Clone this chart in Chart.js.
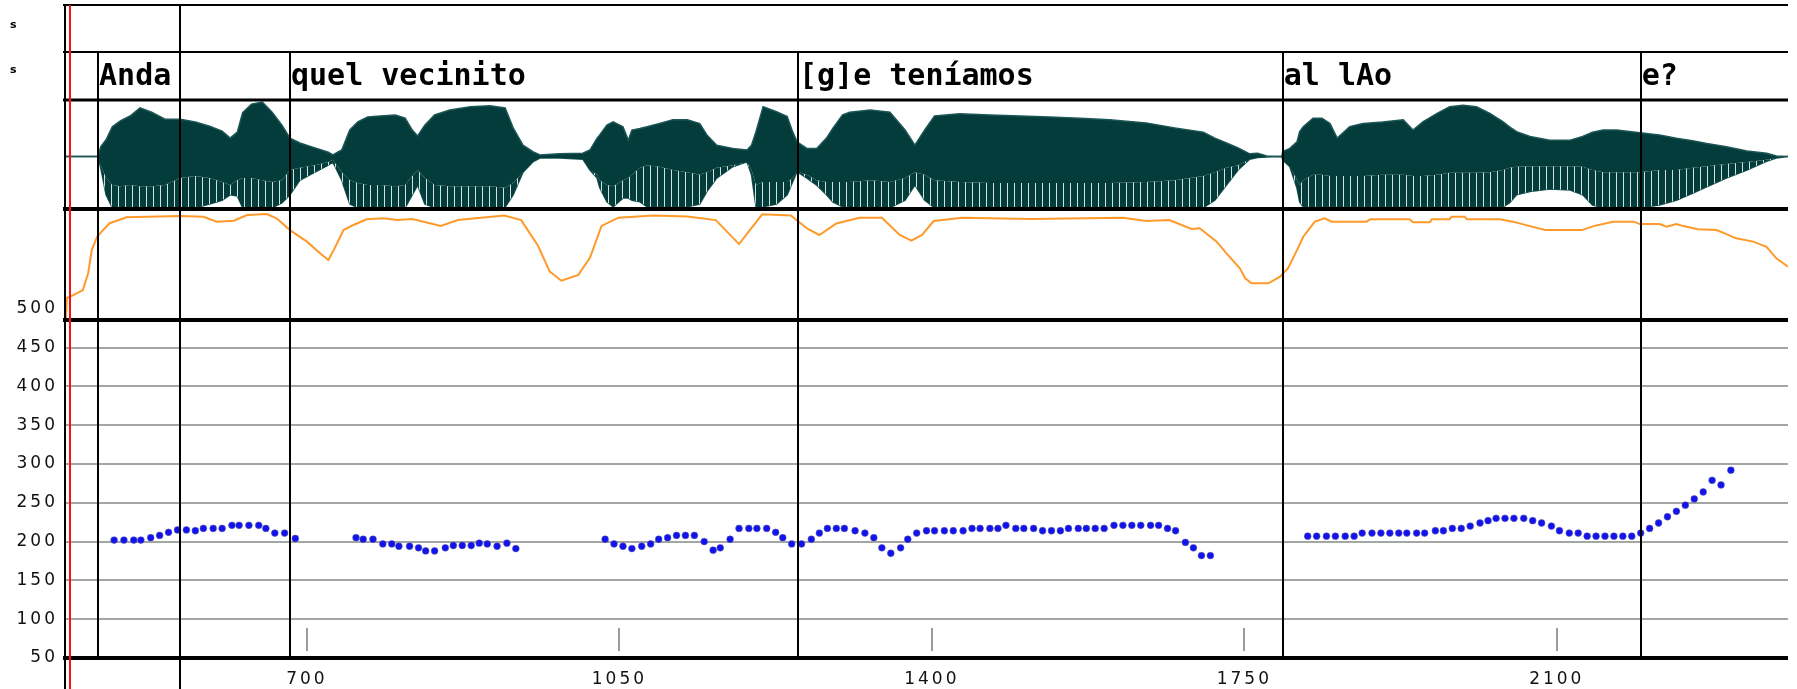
<!DOCTYPE html>
<html>
<head>
<meta charset="utf-8">
<script src="https://cdn.jsdelivr.net/npm/chart.js@4.4.1/dist/chart.umd.min.js"></script>
<style>
  html, body { margin: 0; padding: 0; background: #fff; }
  canvas { display: block; }
</style>
</head>
<body>
<canvas id="c" width="1797" height="689"></canvas>
<script>
// ---- time axis (ms) ----
const timeRange = [429, 2359];
const timeTicks = [700, 1050, 1400, 1750, 2100];
const pitchTicks = [50, 100, 150, 200, 250, 300, 350, 400, 450, 500];
const cursorTime = 434.6;

// ---- text grid ----
const topTierBounds = [558];
const wordBounds = [466, 558, 681, 1250, 1793, 2194];
const wordLabels = ['Anda', '', 'quel vecinito', '[g]e teníamos', 'al lAo', 'e?'];

// ---- waveform envelope: [time, upper peak, lower edge of dense part, lower peak] ----
const wave = [
  [429,0,0,0],[466,0,0,0],[469,.18,-.16,-.21],[475,.31,-.40,-.71],[482,.55,-.53,-.95],[491,.66,-.55,-.95],
  [502,.75,-.53,-.95],[513,.90,-.55,-.95],[526,.82,-.55,-.95],[541,.69,-.53,-.95],[558,.69,-.40,-.95],
  [575,.64,-.36,-.95],[591,.56,-.40,-.88],[605,.47,-.47,-.81],[614,.34,-.53,-.71],[622,.45,-.44,-.73],
  [628,.81,-.40,-.95],[638,.97,-.40,-.95],[650,1.01,-.44,-.95],[661,.82,-.47,-.95],[672,.58,-.44,-.86],
  [681,.34,-.25,-.71],[692,.25,-.21,-.44],[709,.16,-.16,-.29],[724,.08,-.10,-.16],[729,.03,-.06,-.10],
  [739,.12,-.29,-.44],[748,.49,-.44,-.88],[757,.64,-.49,-.95],[768,.73,-.53,-.95],[782,.75,-.53,-.95],
  [799,.77,-.55,-.95],[810,.71,-.53,-.95],[818,.49,-.36,-.71],[824,.38,-.25,-.53],[832,.58,-.40,-.88],
  [843,.77,-.53,-.95],[860,.86,-.55,-.95],[883,.92,-.55,-.95],[905,.94,-.55,-.95],[922,.90,-.58,-.94],
  [931,.53,-.49,-.71],[942,.21,-.29,-.29],[953,.09,-.10,-.10],[961,.03,-.03,-.03],[983,.05,-.03,-.03],
  [1009,.06,-.05,-.05],[1017,.12,-.25,-.25],[1025,.34,-.34,-.40],[1028,.40,-.44,-.58],[1036,.58,-.53,-.84],
  [1043,.64,-.55,-.93],[1054,.55,-.44,-.77],[1060,.30,-.40,-.77],[1064,.49,-.34,-.81],[1073,.52,-.21,-.84],
  [1081,.55,-.16,-.93],[1095,.61,-.19,-.93],[1110,.68,-.25,-.93],[1126,.68,-.29,-.93],[1140,.61,-.34,-.88],
  [1148,.40,-.29,-.65],[1159,.21,-.21,-.40],[1177,.15,-.16,-.19],[1193,.12,-.10,-.10],[1198,.21,-.25,-.34],
  [1203,.46,-.53,-.93],[1211,.92,-.47,-.93],[1226,.83,-.47,-.88],[1238,.74,-.47,-.71],[1244,.46,-.40,-.47],
  [1249,.27,-.28,-.28],[1260,.15,-.34,-.40],[1271,.15,-.44,-.53],[1282,.34,-.47,-.71],[1289,.52,-.47,-.84],
  [1300,.77,-.47,-.93],[1308,.82,-.47,-.95],[1331,.86,-.44,-.95],[1353,.82,-.47,-.95],[1370,.49,-.40,-.81],
  [1381,.21,-.29,-.53],[1392,.49,-.34,-.81],[1403,.75,-.44,-.95],[1431,.79,-.47,-.95],[1465,.77,-.49,-.95],
  [1499,.75,-.49,-.95],[1532,.73,-.49,-.95],[1566,.71,-.49,-.95],[1599,.68,-.49,-.95],[1640,.62,-.47,-.95],
  [1672,.53,-.44,-.95],[1704,.45,-.36,-.95],[1717,.34,-.29,-.81],[1730,.25,-.21,-.53],[1743,.16,-.16,-.25],
  [1756,.05,-.05,-.05],[1765,.06,-.02,-.02],[1775,.01,-.01,-.01],[1792,0,0,0],[1793,.09,-.06,-.06],
  [1801,.15,-.19,-.19],[1809,.27,-.43,-.59],[1812,.46,-.53,-.84],[1816,.55,-.44,-.93],[1827,.71,-.34,-.93],
  [1837,.71,-.34,-.93],[1846,.61,-.36,-.93],[1854,.34,-.36,-.93],[1860,.43,-.36,-.93],[1868,.55,-.36,-.93],
  [1883,.61,-.36,-.93],[1905,.64,-.34,-.93],[1928,.68,-.34,-.93],[1939,.49,-.36,-.93],[1950,.64,-.36,-.93],
  [1966,.80,-.34,-.93],[1980,.92,-.30,-.93],[1995,.95,-.30,-.93],[2010,.92,-.30,-.93],[2025,.80,-.29,-.93],
  [2040,.64,-.25,-.93],[2047,.55,-.21,-.86],[2055,.46,-.19,-.71],[2070,.37,-.18,-.65],[2092,.30,-.18,-.60],
  [2115,.30,-.18,-.62],[2129,.37,-.19,-.71],[2140,.45,-.25,-.90],[2152,.49,-.29,-.95],[2167,.49,-.29,-.95],
  [2193,.44,-.29,-.95],[2215,.40,-.25,-.90],[2234,.34,-.25,-.81],[2252,.29,-.21,-.68],[2268,.24,-.18,-.56],
  [2290,.18,-.14,-.40],[2313,.10,-.10,-.25],[2335,.06,-.06,-.09],[2346,.01,-.03,-.03],[2359,0,0,0]
];

// ---- intensity contour: [time, dB] ----
const intensity = [
  [430,30],[431,39.9],[435,40.5],[442,42.0],[449,43.5],[455,51.2],[459,61.5],[465,67.5],[470,69.8],
  [479,73.6],[487,74.7],[498,76.3],[558,76.8],[584,76.5],[599,74.3],[618,74.7],[633,77.3],[655,77.7],
  [666,75.8],[681,70.5],[700,65.3],[715,60],[724,57],[730,61.5],[741,70.5],[752,72.8],[767,75.4],
  [786,75.8],[801,75],[818,75.5],[850,72.4],[869,75],[921,77.1],[940,75],[959,63.3],[972,51.8],
  [985,47.7],[1004,50.3],[1017,58],[1030,72.4],[1049,76.1],[1088,77.1],[1126,76.6],[1158,75],
  [1184,64.2],[1197,70.9],[1210,77.6],[1242,77.1],[1261,71],[1274,68.3],[1293,73.5],[1319,76.1],
  [1344,76.1],[1364,68.3],[1377,65.7],[1389,68.3],[1402,74.6],[1434,76.1],[1511,75.5],[1614,76.1],
  [1640,74.6],[1666,75],[1691,71],[1700,71.3],[1719,65.3],[1730,60],[1745,53.3],[1751,48.8],
  [1758,46.5],[1777,46.5],[1790,49.5],[1799,53.3],[1809,61.5],[1816,67.5],[1829,74.3],[1840,75.8],
  [1848,74.3],[1887,74.3],[1891,75.4],[1935,75.4],[1939,74],[1958,74],[1960,75.4],[1980,75.4],
  [1982,76.5],[1997,76.5],[1999,75.4],[2036,75.4],[2051,74.3],[2070,72.3],[2087,70.5],[2128,70.5],
  [2141,72.3],[2163,74.3],[2186,74.3],[2193,73.2],[2215,73.2],[2223,72],[2234,73.2],[2242,72.3],
  [2258,70.9],[2279,70.5],[2290,68.7],[2301,66.8],[2320,65.3],[2335,63],[2346,57.8],[2359,54]
];

// ---- pitch track: [time, Hz] ----
const pitch = [
  [484,202],[495,202],[506,202],[514,202],[525,205],[535,208],[545,212],[555,215],[565,215],[575,214],
  [584,217],[595,217],[605,217],[616,221],[624,221],[635,221],[646,221],[654,217],[664,211],[675,211],[687,204],
  [755,205],[763,203],[774,203],[785,197],[795,197],[803,194],[815,194],[825,192],[833,188],[843,188],
  [855,192],[864,195],[874,195],[884,195],[893,198],[902,197],[913,194],[924,198],[934,191],
  [1034,203],[1044,197],[1054,194],[1064,191],[1075,194],[1085,197],[1094,203],[1104,205],[1114,208],
  [1124,208],[1134,208],[1145,200],[1155,189],[1163,192],[1174,203],[1184,217],[1195,217],[1204,217],
  [1215,217],[1225,212],[1233,205],[1243,197],[1254,197],[1265,203],[1274,211],[1283,217],[1293,217],
  [1302,217],[1314,214],[1325,211],[1335,205],[1344,192],[1354,185],[1365,192],[1373,203],[1383,211],
  [1394,214],[1403,214],[1414,214],[1424,214],[1435,214],[1445,217],[1454,217],[1465,217],[1474,217],
  [1483,221],[1494,217],[1503,217],[1514,217],[1524,214],[1534,214],[1544,214],[1553,217],[1564,217],
  [1573,217],[1583,217],[1593,217],[1604,221],[1614,221],[1624,221],[1634,221],[1645,221],[1654,221],
  [1664,217],[1673,214],[1684,199],[1693,192],[1702,182],[1712,182],
  [1821,207],[1831,207],[1842,207],[1852,207],[1863,207],[1873,207],[1882,211],[1893,211],[1903,211],
  [1913,211],[1923,211],[1932,211],[1943,211],[1952,211],[1964,214],[1973,214],[1983,217],[1993,217],
  [2003,220],[2014,224],[2023,227],[2032,230],[2042,230],[2052,230],[2063,230],[2073,227],[2083,224],
  [2094,220],[2103,214],[2114,211],[2124,211],[2134,207],[2144,207],[2154,207],[2164,207],[2174,207],
  [2184,207],[2194,211],[2204,217],[2214,224],[2224,232],[2234,239],[2244,247],[2254,255],[2264,264],
  [2274,279],[2284,273],[2295,292]
];

// ---- panel layout in canvas pixels ----
const LAYOUT = {
  top: 5, tierMid: 52, waveTop: 100, waveBottom: 209, intBottom: 320, bottom: 658,
  left: 65, right: 1788, canvasBottom: 689
};

// Axis range that places vTop at pxTop and vBot at pxBot inside the full plot area
function rangeFor(vTop, vBot, pxTop, pxBot) {
  const k = (vTop - vBot) / (pxBot - pxTop);
  return { min: vBot - (LAYOUT.bottom - pxBot) * k, max: vTop + (pxTop - LAYOUT.top) * k };
}
const pitchRange = rangeFor(450, 50, 347.6, LAYOUT.bottom);
const waveRange = rangeFor(1, -1, 102.5, 210.5);
const intRange = rangeFor(80, 30, LAYOUT.waveBottom, LAYOUT.intBottom);

// Striped fill for the sparse lower part of the waveform
const stripe = document.createElement('canvas');
stripe.width = 7; stripe.height = 1;
const sctx = stripe.getContext('2d');
sctx.fillStyle = '#033c3a'; sctx.fillRect(0, 0, 6, 1);
sctx.fillStyle = '#d2e2de'; sctx.fillRect(6, 0, 1, 1);
const stripePattern = sctx.createPattern(stripe, 'repeat');

const WAVE = '#033c3a';

// Axis boxes of fixed size, with no extra padding around the plot area
function fixBox(size, vertical) {
  return s => {
    if (vertical) s.width = size; else s.height = size;
    s.paddingTop = 0; s.paddingBottom = 0; s.paddingLeft = 0; s.paddingRight = 0;
  };
}

// Frame, boundaries, tier labels and time ticks
const framePlugin = {
  id: 'frame',
  beforeDraw(chart) {
    // wide spacing for the numeric tick labels
    chart.ctx.letterSpacing = '3px';
  },
  afterDatasetsDraw(chart) {
    const { ctx, scales: { x } } = chart;
    const L = LAYOUT;
    ctx.save();
    ctx.letterSpacing = '0px';
    // short time ticks above the bottom edge
    ctx.strokeStyle = '#9c9c9c'; ctx.lineWidth = 2;
    timeTicks.forEach(t => {
      const px = Math.round(x.getPixelForValue(t));
      ctx.beginPath(); ctx.moveTo(px, 628); ctx.lineTo(px, 651); ctx.stroke();
    });
    // horizontal panel lines
    ctx.strokeStyle = '#000';
    [[L.top, 2], [L.tierMid, 2], [L.waveTop, 3], [L.waveBottom, 4], [L.intBottom, 4], [L.bottom, 4]]
      .forEach(([y, w]) => {
        ctx.lineWidth = w;
        ctx.beginPath(); ctx.moveTo(L.left - 2, y); ctx.lineTo(L.right, y); ctx.stroke();
      });
    // left edge
    ctx.lineWidth = 2;
    ctx.beginPath(); ctx.moveTo(L.left, L.top); ctx.lineTo(L.left, L.canvasBottom); ctx.stroke();
    // interval boundaries
    wordBounds.forEach(t => {
      const px = Math.round(x.getPixelForValue(t));
      ctx.beginPath(); ctx.moveTo(px, L.tierMid); ctx.lineTo(px, L.bottom); ctx.stroke();
    });
    topTierBounds.forEach(t => {
      const px = Math.round(x.getPixelForValue(t));
      ctx.beginPath(); ctx.moveTo(px, L.top); ctx.lineTo(px, L.canvasBottom); ctx.stroke();
    });
    // cursor
    ctx.strokeStyle = '#ff1010'; ctx.lineWidth = 2;
    const cx = Math.round(x.getPixelForValue(cursorTime));
    ctx.beginPath(); ctx.moveTo(cx, L.top); ctx.lineTo(cx, L.canvasBottom); ctx.stroke();
    // interval labels
    ctx.fillStyle = '#000';
    ctx.font = 'bold 30px "DejaVu Sans Mono"';
    ctx.textBaseline = 'middle';
    ctx.textAlign = 'left';
    wordBounds.forEach((t, i) => {
      if (!wordLabels[i]) return;
      ctx.fillText(wordLabels[i], x.getPixelForValue(t) + 1, 77);
    });
    // tier markers at the left margin
    ctx.font = 'bold 11px "DejaVu Sans"';
    ctx.fillText('s', 10, 25);
    ctx.fillText('s', 10, 70);
    ctx.restore();
  },
  afterDraw(chart) {
    chart.ctx.letterSpacing = '0px';
  }
};

new Chart(document.getElementById('c'), {
  type: 'line',
  data: {
    datasets: [
      {
        label: 'upper', yAxisID: 'yW',
        data: wave.map(r => ({ x: r[0], y: r[1] })),
        borderColor: '#1d5656', borderWidth: 1.5, backgroundColor: WAVE,
        fill: '+1', pointRadius: 0, tension: 0
      },
      {
        label: 'dense', yAxisID: 'yW',
        data: wave.map(r => ({ x: r[0], y: r[2] })),
        borderWidth: 0, borderColor: 'rgba(0,0,0,0)', backgroundColor: stripePattern,
        fill: '+1', pointRadius: 0, tension: 0
      },
      {
        label: 'lower', yAxisID: 'yW',
        data: wave.map(r => ({ x: r[0], y: r[3] })),
        borderColor: '#1d5656', borderWidth: 1.5, fill: false, pointRadius: 0, tension: 0
      },
      {
        label: 'intensity', yAxisID: 'yI',
        data: intensity.map(r => ({ x: r[0], y: r[1] })),
        borderColor: '#ff9a2a', borderWidth: 2, fill: false, pointRadius: 0, tension: 0
      },
      {
        label: 'pitch', yAxisID: 'yP', showLine: false,
        data: pitch.map(r => ({ x: r[0], y: r[1] })),
        pointRadius: 3.4, pointBackgroundColor: '#1212ee',
        pointBorderColor: 'rgba(90,90,170,0.55)', pointBorderWidth: 1
      }
    ]
  },
  options: {
    responsive: false,
    devicePixelRatio: 1,
    animation: false,
    events: [],
    layout: { padding: { top: LAYOUT.top, right: 1797 - LAYOUT.right, left: 0, bottom: 0 } },
    plugins: { legend: { display: false }, tooltip: { enabled: false } },
    scales: {
      x: {
        type: 'linear', position: 'bottom', min: timeRange[0], max: timeRange[1],
        grid: { display: false, drawTicks: false },
        border: { display: false },
        afterBuildTicks: s => { s.ticks = timeTicks.map(v => ({ value: v })); },
        afterFit: fixBox(LAYOUT.canvasBottom - LAYOUT.bottom, false),
        ticks: {
          padding: 11, color: '#111', maxRotation: 0,
          font: { family: 'DejaVu Sans', size: 17 },
          callback: v => String(v)
        }
      },
      yP: {
        type: 'linear', position: 'left', min: pitchRange.min, max: pitchRange.max,
        border: { display: false },
        grid: {
          drawTicks: false, lineWidth: 2,
          color: c => (c.tick && c.tick.value > 50 && c.tick.value < 500) ? '#a3a7a3' : 'rgba(0,0,0,0)'
        },
        afterBuildTicks: s => { s.ticks = pitchTicks.map(v => ({ value: v })); },
        afterFit: fixBox(LAYOUT.left, true),
        ticks: {
          padding: 7, color: '#111',
          font: { family: 'DejaVu Sans', size: 17 },
          callback: v => String(v)
        }
      },
      yW: { type: 'linear', display: false, min: waveRange.min, max: waveRange.max },
      yI: { type: 'linear', display: false, min: intRange.min, max: intRange.max }
    }
  },
  plugins: [framePlugin]
});
</script>
</body>
</html>
